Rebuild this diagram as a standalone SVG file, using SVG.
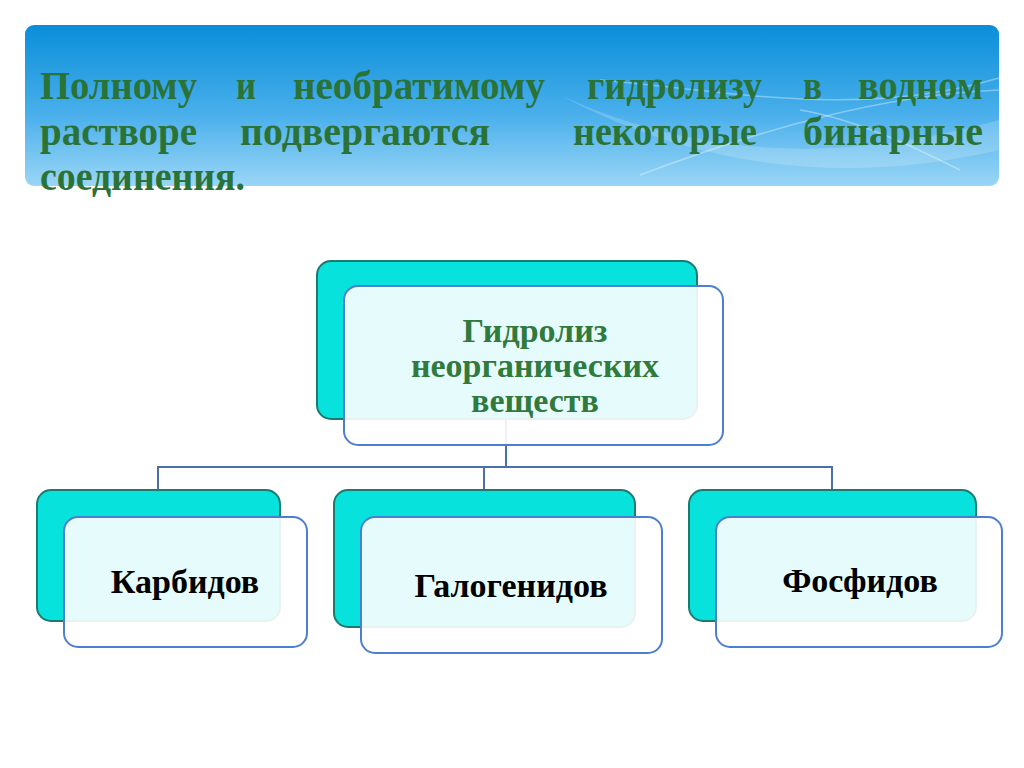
<svg xmlns="http://www.w3.org/2000/svg" width="1024" height="768" viewBox="0 0 1024 768">
<defs>
<linearGradient id="ban" x1="0" y1="0" x2="0" y2="1">
<stop offset="0" stop-color="#0a8ed9"/>
<stop offset="0.55" stop-color="#49afeb"/>
<stop offset="1" stop-color="#9ad6f6"/>
</linearGradient>
<style>
.title{font-family:"Liberation Serif","Times New Roman",serif;font-weight:bold;font-size:40px;fill:#2b7236}
.back{fill:#08e2dc;stroke:#1c7a6e;stroke-width:2}
.front{fill:#ffffff;fill-opacity:0.9;stroke:#4d7fd0;stroke-width:2}
.main{font-family:"Liberation Serif","Times New Roman",serif;font-weight:bold;font-size:34px;fill:#2f7a3c;text-anchor:middle}
.lbl{font-family:"Liberation Serif","Times New Roman",serif;font-weight:bold;font-size:34px;fill:#000;text-anchor:middle}
.con{fill:none;stroke:#4a6faa;stroke-width:2}
.wave{fill:none;stroke:#ffffff;stroke-opacity:0.35;stroke-width:1.5}
</style>
</defs>
<rect width="1024" height="768" fill="#ffffff"/>
<g id="banner">
<rect x="25" y="25" width="974" height="161" rx="9" fill="url(#ban)"/>
<path d="M560 95 C 680 150, 820 170, 999 120 L 999 150 C 850 185, 700 170, 560 95 Z" fill="#ffffff" fill-opacity="0.18"/>
<path class="wave" d="M600 80 C 720 90, 860 120, 999 78"/>
<path class="wave" d="M640 175 C 760 130, 880 95, 999 90"/>
<path class="wave" d="M800 110 C 860 120, 920 150, 960 170"/>
</g>
<g id="title">
<text class="title" y="99"><tspan x="40" textLength="157" lengthAdjust="spacingAndGlyphs">Полному</tspan><tspan x="236" textLength="20" lengthAdjust="spacingAndGlyphs">и</tspan><tspan x="293" textLength="252" lengthAdjust="spacingAndGlyphs">необратимому</tspan><tspan x="587" textLength="175" lengthAdjust="spacingAndGlyphs">гидролизу</tspan><tspan x="803" textLength="19" lengthAdjust="spacingAndGlyphs">в</tspan><tspan x="858" textLength="125" lengthAdjust="spacingAndGlyphs">водном</tspan></text>
<text class="title" y="145"><tspan x="40" textLength="157" lengthAdjust="spacingAndGlyphs">растворе</tspan><tspan x="240" textLength="250" lengthAdjust="spacingAndGlyphs">подвергаются</tspan><tspan x="573" textLength="184" lengthAdjust="spacingAndGlyphs">некоторые</tspan><tspan x="803" textLength="180" lengthAdjust="spacingAndGlyphs">бинарные</tspan></text>
<text class="title" y="190"><tspan x="40" textLength="205" lengthAdjust="spacingAndGlyphs">соединения.</tspan></text>
</g>
<g id="connectors">
<path class="con" d="M506 419 V467"/>
<path class="con" d="M158 490 V467 H832 V490"/>
<path class="con" d="M484 467 V490"/>
</g>
<g id="node-main">
<rect class="back" x="317" y="261" width="380" height="158" rx="14"/>
<rect class="front" x="344" y="286" width="379" height="159" rx="14"/>
<text class="main" x="535" y="342">Гидролиз</text>
<text class="main" x="535" y="377">неорганических</text>
<text class="main" x="535" y="412">веществ</text>
</g>
<g id="node-carbides">
<rect class="back" x="37" y="490" width="243" height="131" rx="14"/>
<rect class="front" x="64" y="517" width="243" height="130" rx="14"/>
<text class="lbl" x="185" y="593">Карбидов</text>
</g>
<g id="node-halides">
<rect class="back" x="334" y="490" width="301" height="137" rx="14"/>
<rect class="front" x="361" y="517" width="301" height="136" rx="14"/>
<text class="lbl" x="511" y="597">Галогенидов</text>
</g>
<g id="node-phosphides">
<rect class="back" x="689" y="490" width="287" height="131" rx="14"/>
<rect class="front" x="716" y="517" width="286" height="130" rx="14"/>
<text class="lbl" x="860" y="592">Фосфидов</text>
</g>
</svg>
